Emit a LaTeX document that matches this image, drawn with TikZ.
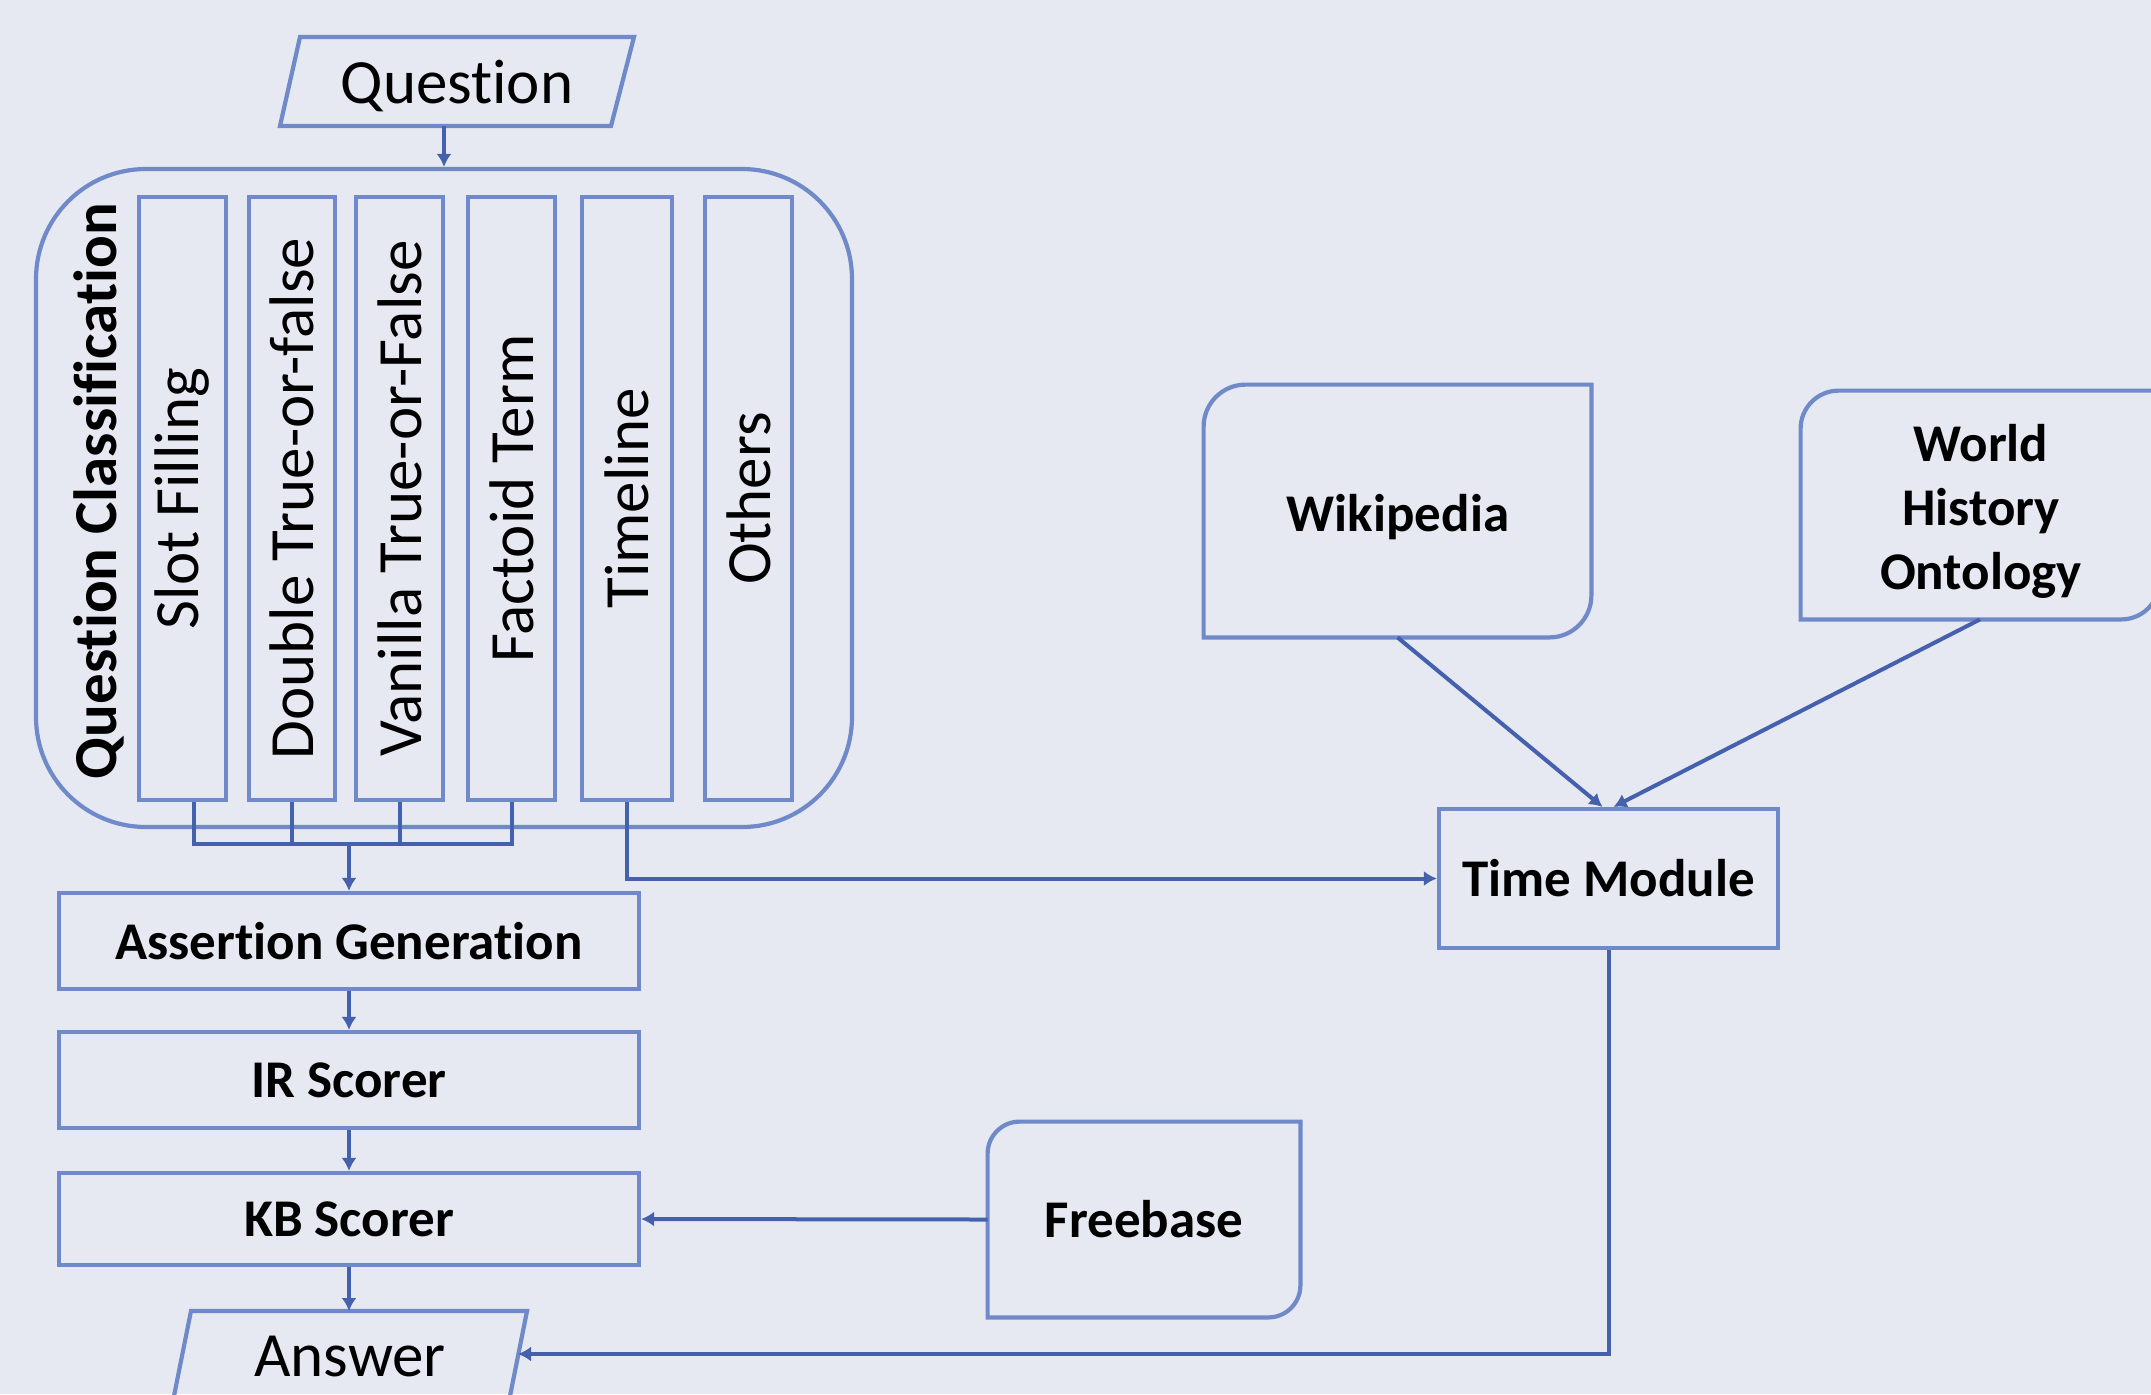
\documentclass[tikz,border=0pt]{standalone}
\usepackage{fontspec}
\setmainfont{Carlito}[Ligatures=NoCommon]
\usetikzlibrary{arrows.meta,calc}
\definecolor{bgc}{HTML}{E6E9F1}
\definecolor{boxc}{HTML}{7089C8}
\definecolor{linec}{HTML}{4561AD}
\newcommand\rdbox[2]{\draw[boxline] let \p1=(#1.south west), \p2=(#1.north east) in
 (\x1,\y1) -- ({\x1},{\y2-#2}) .. controls ({\x1},{\y2-0.448*#2}) and ({\x1+0.448*#2},{\y2}) .. ({\x1+#2},{\y2})
 -- (\x2,\y2) -- ({\x2},{\y1+#2}) .. controls ({\x2},{\y1+0.448*#2}) and ({\x2-0.448*#2},{\y1}) .. ({\x2-#2},{\y1}) -- cycle;}
\begin{document}
\begin{tikzpicture}[x=0.5pt,y=-0.5pt,
  boxline/.style={draw=boxc,line width=2.1pt},
  conn/.style={draw=linec,line width=2pt},
  arr/.style={conn,-{Latex[length=6.5pt,width=7.5pt]}},
  rtext/.style={font=\fontsize{31.5}{38}\selectfont,text=black,inner sep=0pt},
  btext/.style={font=\bfseries\fontsize{26.5}{32}\selectfont,text=black,inner sep=0pt},
  rect/.style={boxline,rectangle,inner sep=0pt},
  colbox/.style={rect,minimum height=301.5pt,font=\fontsize{31.5}{38}\selectfont,text=black},
  stepbox/.style={rect,minimum width=290pt,font=\bfseries\fontsize{26.5}{32}\selectfont,text=black}
]
\fill[bgc] (0,0) rectangle (2151,1394);
\clip (0,0) rectangle (2151,1394);

% Question
\draw[boxline] (300,37) -- (634,37) -- (611,126) -- (280,126) -- cycle;
\node[rtext] (q) at (457,86) {Question};
\coordinate (qb) at (444,126);

% Question classification container
\node[rect,rounded corners=55pt,minimum width=408pt,minimum height=329pt] (qc) at (444,498) {};
\node[font=\bfseries\fontsize{30.5}{36}\selectfont,rotate=90,inner sep=0pt] (qct) at (99,491) {Question Classification};
\node[colbox,minimum width=43.5pt] (c1) at (182.5,498.5) {\rotatebox{90}{Slot Filling}};
\node[colbox,minimum width=43pt] (c2) at (292,498.5) {\rotatebox{90}{Double True-or-false}};
\node[colbox,minimum width=43.5pt] (c3) at (399.5,498.5) {\rotatebox{90}{Vanilla True-or-False}};
\node[colbox,minimum width=43.5pt] (c4) at (511.5,498.5) {\rotatebox{90}{Factoid Term}};
\node[colbox,minimum width=45pt] (c5) at (627,498.5) {\rotatebox{90}{Timeline}};
\node[colbox,minimum width=43.5pt] (c6) at (748.5,498.5) {\rotatebox{90}{Others}};

% Pipeline
\node[stepbox,minimum height=48pt] (ag) at (349,941) {Assertion Generation};
\node[stepbox,minimum height=48pt] (ir) at (349,1080) {IR Scorer};
\node[stepbox,minimum height=46pt] (kb) at (349,1219) {KB Scorer};

% Answer
\draw[boxline] (191,1311) -- (527,1311) -- (509,1401) -- (173,1401) -- cycle;
\node[rtext] (ans) at (350,1356) {Answer};
\coordinate (ansT) at (349,1311);
\coordinate (ansR) at (518,1354);

% Knowledge sources
\node[minimum width=193.5pt,minimum height=126pt,inner sep=0pt] (wiki) at (1397.5,511) {};
\node[btext] (wikit) at (1398,517) {Wikipedia};
\rdbox{wiki}{21pt}
\node[minimum width=179pt,minimum height=114pt,inner sep=0pt] (who) at (1980,505) {};
\node[btext,align=center] (whot) at (1981,511) {World\\History\\Ontology};
\rdbox{who}{19pt}
\node[btext,minimum width=156pt,minimum height=97.5pt] (fb) at (1144,1219.5) {Freebase};
\rdbox{fb}{16pt}

% Time module
\node[rect,minimum width=169.5pt,minimum height=69.5pt,font=\bfseries\fontsize{26.5}{32}\selectfont] (tm) at (1608.5,878.5) {Time Module};

% Connectors
\draw[arr] (qb) -- (qc.north);
\coordinate (bus) at (349,844);
\draw[conn] ([xshift=5.5pt]c1.south) |- (c4.south |- bus) -- (c4.south);
\draw[conn] (c2.south) -- (c2.south |- bus);
\draw[conn] (c3.south) -- (c3.south |- bus);
\draw[arr] (bus) -- (ag.north);
\draw[arr] (ag.south) -- (ir.north);
\draw[arr] (ir.south) -- (kb.north);
\draw[arr] (kb.south) -- (ansT);
\draw[arr] (c5.south) |- (tm.west);
\draw[arr] (wiki.south) -- ([xshift=-3pt]tm.north);
\draw[arr] (who.south) -- ([xshift=2.5pt]tm.north);
\draw[arr] (tm.south) |- (ansR);
\draw[arr] (fb.west) -- (kb.east);
\end{tikzpicture}
\end{document}
